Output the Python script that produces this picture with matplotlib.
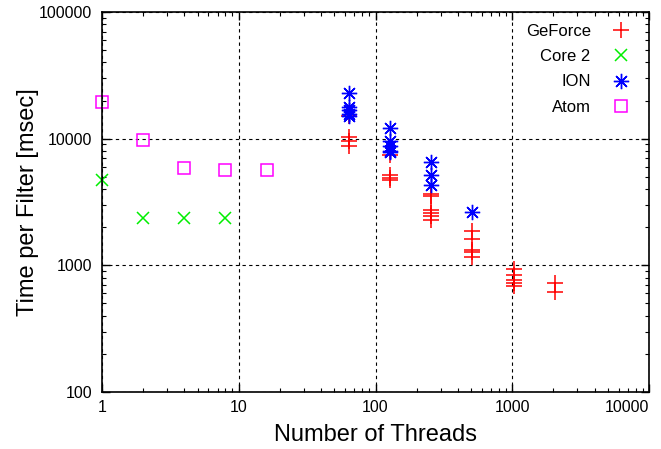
import matplotlib
matplotlib.use("Agg")
import matplotlib.pyplot as plt
from matplotlib.ticker import LogLocator, NullFormatter, FixedLocator

plt.rcParams['font.family'] = ['Liberation Sans', 'DejaVu Sans']

# GeForce
gf_threads = [64, 64, 64, 64, 128, 128, 128, 128, 256, 256, 256, 256, 256, 256,
              512, 512, 512, 512, 512, 1024, 1024, 1024, 1024, 1024, 2048, 2048]
gf_time = [15000, 10300, 9500, 8800, 7400, 5200, 4900, 4700, 3650, 3550, 2750, 2580, 2430, 2280,
           1850, 1600, 1330, 1280, 1170, 940, 840, 765, 720, 685, 720, 620]
# Core 2
c2_threads = [1, 2, 4, 8]
c2_time = [4750, 2380, 2380, 2380]
# ION
ion_threads = [64, 64, 64, 64, 64, 128, 128, 128, 128, 128, 256, 256, 256, 512]
ion_time = [22800, 17800, 16800, 15800, 15200, 12100, 9600, 8800, 8050, 7800, 6500, 5150, 4300, 2650]
# Atom
atom_threads = [1, 2, 4, 8, 16]
atom_time = [19500, 9700, 5850, 5650, 5650]

xt = [1, 10, 100, 1000, 10000]
yt = [100, 1000, 10000, 100000]

fig = plt.figure(figsize=(6.61, 4.49), dpi=100)
ax = fig.add_axes([102 / 661, 1 - 392 / 449, 547 / 661, 380 / 449])

ax.plot(gf_threads, gf_time, linestyle='none', marker='+', markersize=11,
        markeredgewidth=1.1, color='#ff0000', label='GeForce', clip_on=False)
ax.plot(c2_threads, c2_time, linestyle='none', marker='x', markersize=9,
        markeredgewidth=1.1, color='#00ee00', label='Core 2', clip_on=False)
ax.plot(ion_threads, ion_time, linestyle='none', marker=(8, 2, 0), markersize=11,
        markeredgewidth=1.0, color='#0000ff', label='ION', clip_on=False)
ax.plot(atom_threads, atom_time, linestyle='none', marker='s', markersize=8.5,
        markeredgewidth=1.1, markerfacecolor='none', color='#ff00ff', label='Atom',
        clip_on=False)

ax.set_xscale('log')
ax.set_yscale('log')
ax.set_xlim(1, 10000)
ax.set_ylim(100, 100000)

ax.xaxis.set_major_locator(FixedLocator(xt))
ax.yaxis.set_major_locator(FixedLocator(yt))
ax.set_xticklabels([str(v) for v in xt])
ax.set_yticklabels([str(v) for v in yt])
ax.xaxis.set_minor_locator(LogLocator(base=10, subs=range(2, 10)))
ax.yaxis.set_minor_locator(LogLocator(base=10, subs=range(2, 10)))
ax.xaxis.set_minor_formatter(NullFormatter())
ax.yaxis.set_minor_formatter(NullFormatter())

ax.tick_params(which='both', direction='in', top=True, right=True, labelsize=11.5)
ax.tick_params(which='major', length=6, width=1)
ax.tick_params(which='minor', length=3, width=0.8)
ax.tick_params(axis='x', pad=6)
ax.tick_params(axis='y', pad=7)
ax.get_xticklabels()[-1].set_ha('right')

for s in ax.spines.values():
    s.set_linewidth(1.2)

ax.grid(True, which='major', linestyle=(0, (3, 3)), color='black', linewidth=0.8)
ax.set_axisbelow(True)

ax.set_xlabel('Number of Threads', fontsize=17, labelpad=6)
ax.set_ylabel('Time per Filter [msec]', fontsize=17, labelpad=0)

leg = ax.legend(loc='upper right', frameon=False, markerfirst=False, fontsize=12,
                handletextpad=0.8, labelspacing=0.62, borderaxespad=0.3)
for t in leg.get_texts():
    t.set_ha('right')
leg._legend_box.align = 'right'

fig.savefig('out.png', dpi=100)
